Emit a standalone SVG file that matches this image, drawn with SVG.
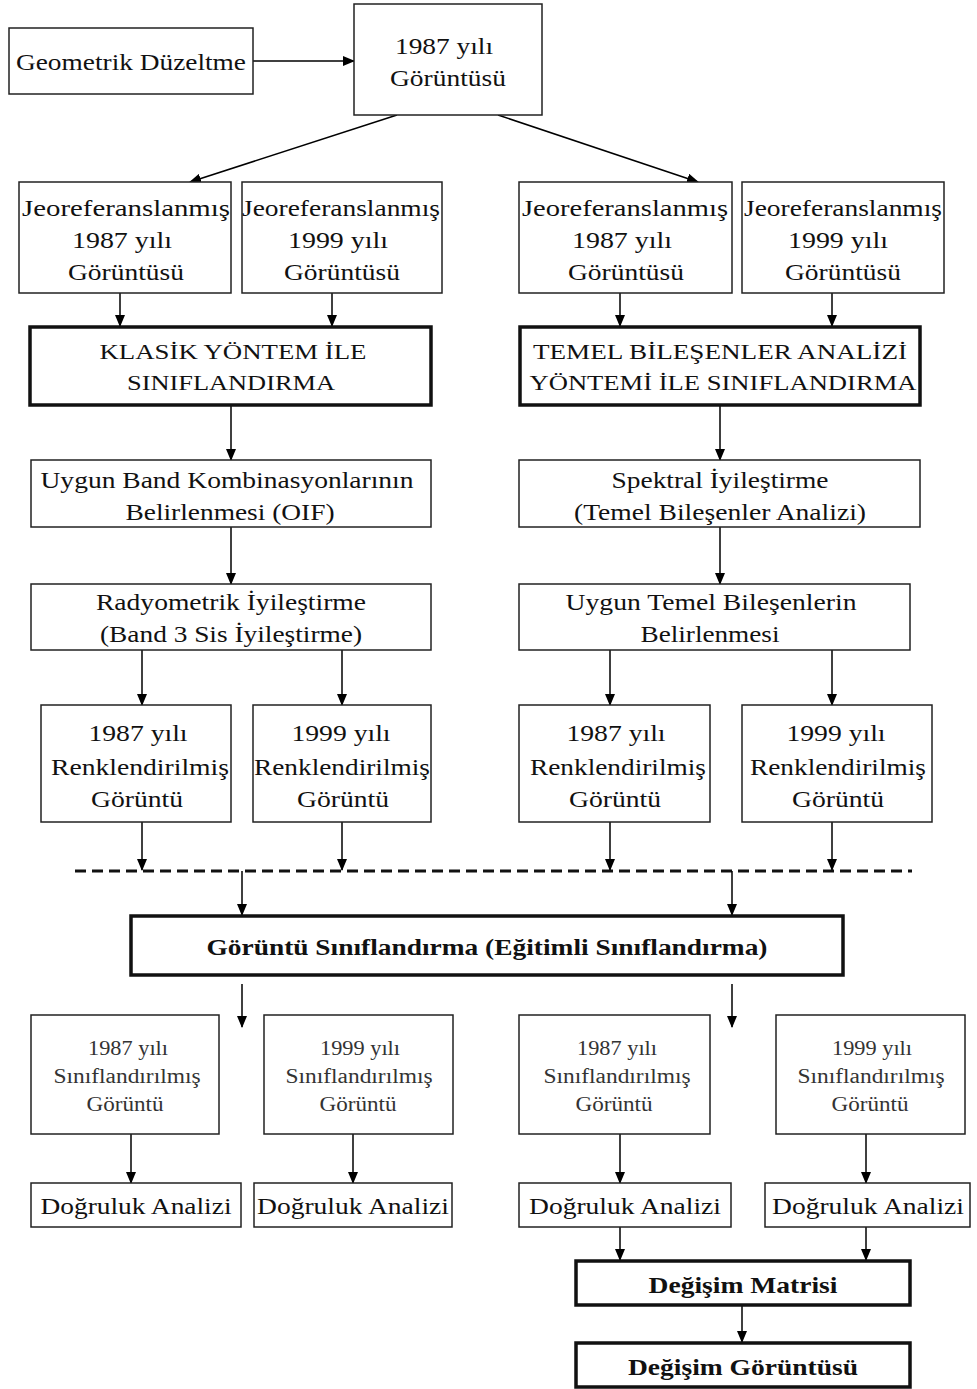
<svg xmlns="http://www.w3.org/2000/svg" width="977" height="1389" viewBox="0 0 977 1389">
<defs>
<marker id="ah" markerWidth="12" markerHeight="10" refX="11" refY="5" orient="auto" markerUnits="userSpaceOnUse">
<path d="M0,0 L12,5 L0,10 Z" fill="#000"/>
</marker>
<style>
.b{fill:#fff;stroke:#222;stroke-width:1.5}
.t{fill:#fff;stroke:#111;stroke-width:3.5}
text{font-family:"Liberation Serif","Times New Roman",serif;fill:#111;text-anchor:middle}
.n{font-size:24px}
.c{font-size:20px}
.s{font-size:20px;fill:#333}
.k{font-size:24px;font-weight:bold}
.e{stroke:#000;stroke-width:1.5;fill:none;marker-end:url(#ah)}
</style>
</defs>
<rect width="977" height="1389" fill="#fff"/>

<g id="connectors">
<line class="e" x1="253" y1="61" x2="354" y2="61"/>
<line class="e" x1="397" y1="115" x2="190" y2="182"/>
<line class="e" x1="498" y1="115" x2="698" y2="182"/>
<line class="e" x1="120" y1="293" x2="120" y2="326"/>
<line class="e" x1="332" y1="293" x2="332" y2="326"/>
<line class="e" x1="620" y1="293" x2="620" y2="326"/>
<line class="e" x1="832" y1="293" x2="832" y2="326"/>
<line class="e" x1="231" y1="405" x2="231" y2="460"/>
<line class="e" x1="720" y1="405" x2="720" y2="460"/>
<line class="e" x1="231" y1="527" x2="231" y2="584"/>
<line class="e" x1="720" y1="527" x2="720" y2="584"/>
<line class="e" x1="142" y1="650" x2="142" y2="705"/>
<line class="e" x1="342" y1="650" x2="342" y2="705"/>
<line class="e" x1="610" y1="650" x2="610" y2="705"/>
<line class="e" x1="832" y1="650" x2="832" y2="705"/>
<line class="e" x1="142" y1="822" x2="142" y2="870"/>
<line class="e" x1="342" y1="822" x2="342" y2="870"/>
<line class="e" x1="610" y1="822" x2="610" y2="870"/>
<line class="e" x1="832" y1="822" x2="832" y2="870"/>
<line x1="75" y1="871" x2="912" y2="871" stroke="#111" stroke-width="3" stroke-dasharray="11 6"/>
<line class="e" x1="242" y1="871" x2="242" y2="915"/>
<line class="e" x1="732" y1="871" x2="732" y2="915"/>
<line class="e" x1="242" y1="984" x2="242" y2="1027"/>
<line class="e" x1="732" y1="984" x2="732" y2="1027"/>
<line class="e" x1="131" y1="1134" x2="131" y2="1183"/>
<line class="e" x1="353" y1="1134" x2="353" y2="1183"/>
<line class="e" x1="620" y1="1134" x2="620" y2="1183"/>
<line class="e" x1="866" y1="1134" x2="866" y2="1183"/>
<line class="e" x1="620" y1="1227" x2="620" y2="1260"/>
<line class="e" x1="866" y1="1227" x2="866" y2="1260"/>
<line class="e" x1="742" y1="1305" x2="742" y2="1342"/>
</g>

<g id="geometrik">
<rect class="b" x="9" y="28" width="244" height="66"/>
<text class="n" x="131" y="70" textLength="230" lengthAdjust="spacingAndGlyphs">Geometrik Düzeltme</text>
</g>
<g id="img1987">
<rect class="b" x="354" y="4" width="188" height="111"/>
<text class="n" x="444" y="54" textLength="98" lengthAdjust="spacingAndGlyphs">1987 yılı</text>
<text class="n" x="448" y="86" textLength="116" lengthAdjust="spacingAndGlyphs">Görüntüsü</text>
</g>

<g id="jeo1">
<rect class="b" x="19" y="182" width="212" height="111"/>
<text class="n" x="126" y="216" textLength="208" lengthAdjust="spacingAndGlyphs">Jeoreferanslanmış</text>
<text class="n" x="122" y="248" textLength="100" lengthAdjust="spacingAndGlyphs">1987 yılı</text>
<text class="n" x="126" y="280" textLength="116" lengthAdjust="spacingAndGlyphs">Görüntüsü</text>
</g>
<g id="jeo2">
<rect class="b" x="242" y="182" width="200" height="111"/>
<text class="n" x="341" y="216" textLength="198" lengthAdjust="spacingAndGlyphs">Jeoreferanslanmış</text>
<text class="n" x="338" y="248" textLength="100" lengthAdjust="spacingAndGlyphs">1999 yılı</text>
<text class="n" x="342" y="280" textLength="116" lengthAdjust="spacingAndGlyphs">Görüntüsü</text>
</g>
<g id="jeo3">
<rect class="b" x="519" y="182" width="213" height="111"/>
<text class="n" x="625" y="216" textLength="206" lengthAdjust="spacingAndGlyphs">Jeoreferanslanmış</text>
<text class="n" x="622" y="248" textLength="100" lengthAdjust="spacingAndGlyphs">1987 yılı</text>
<text class="n" x="626" y="280" textLength="116" lengthAdjust="spacingAndGlyphs">Görüntüsü</text>
</g>
<g id="jeo4">
<rect class="b" x="742" y="182" width="202" height="111"/>
<text class="n" x="843" y="216" textLength="198" lengthAdjust="spacingAndGlyphs">Jeoreferanslanmış</text>
<text class="n" x="838" y="248" textLength="100" lengthAdjust="spacingAndGlyphs">1999 yılı</text>
<text class="n" x="843" y="280" textLength="116" lengthAdjust="spacingAndGlyphs">Görüntüsü</text>
</g>

<g id="klasik">
<rect class="t" x="30" y="327" width="401" height="78"/>
<text class="c" x="233" y="359" textLength="267" lengthAdjust="spacingAndGlyphs">KLASİK YÖNTEM İLE</text>
<text class="c" x="231" y="390" textLength="208" lengthAdjust="spacingAndGlyphs">SINIFLANDIRMA</text>
</g>
<g id="temel">
<rect class="t" x="520" y="327" width="400" height="78"/>
<text class="c" x="720" y="359" textLength="374" lengthAdjust="spacingAndGlyphs">TEMEL BİLEŞENLER ANALİZİ</text>
<text class="c" x="723" y="390" textLength="387" lengthAdjust="spacingAndGlyphs">YÖNTEMİ İLE SINIFLANDIRMA</text>
</g>

<g id="uygunband">
<rect class="b" x="31" y="460" width="400" height="67"/>
<text class="n" x="227" y="488" textLength="373" lengthAdjust="spacingAndGlyphs">Uygun Band Kombinasyonlarının</text>
<text class="n" x="230" y="520" textLength="209" lengthAdjust="spacingAndGlyphs">Belirlenmesi (OIF)</text>
</g>
<g id="spektral">
<rect class="b" x="519" y="460" width="401" height="67"/>
<text class="n" x="720" y="488" textLength="217" lengthAdjust="spacingAndGlyphs">Spektral İyileştirme</text>
<text class="n" x="720" y="520" textLength="292" lengthAdjust="spacingAndGlyphs">(Temel Bileşenler Analizi)</text>
</g>

<g id="radyometrik">
<rect class="b" x="31" y="584" width="400" height="66"/>
<text class="n" x="231" y="610" textLength="270" lengthAdjust="spacingAndGlyphs">Radyometrik İyileştirme</text>
<text class="n" x="231" y="642" textLength="262" lengthAdjust="spacingAndGlyphs">(Band 3 Sis İyileştirme)</text>
</g>
<g id="uygunbilesen">
<rect class="b" x="519" y="584" width="391" height="66"/>
<text class="n" x="711" y="610" textLength="291" lengthAdjust="spacingAndGlyphs">Uygun Temel Bileşenlerin</text>
<text class="n" x="710" y="642" textLength="139" lengthAdjust="spacingAndGlyphs">Belirlenmesi</text>
</g>

<g id="renk1">
<rect class="b" x="41" y="705" width="190" height="117"/>
<text class="n" x="138" y="741" textLength="99" lengthAdjust="spacingAndGlyphs">1987 yılı</text>
<text class="n" x="140" y="775" textLength="178" lengthAdjust="spacingAndGlyphs">Renklendirilmiş</text>
<text class="n" x="137" y="807" textLength="92" lengthAdjust="spacingAndGlyphs">Görüntü</text>
</g>
<g id="renk2">
<rect class="b" x="253" y="705" width="178" height="117"/>
<text class="n" x="341" y="741" textLength="99" lengthAdjust="spacingAndGlyphs">1999 yılı</text>
<text class="n" x="342" y="775" textLength="176" lengthAdjust="spacingAndGlyphs">Renklendirilmiş</text>
<text class="n" x="343" y="807" textLength="92" lengthAdjust="spacingAndGlyphs">Görüntü</text>
</g>
<g id="renk3">
<rect class="b" x="519" y="705" width="191" height="117"/>
<text class="n" x="616" y="741" textLength="99" lengthAdjust="spacingAndGlyphs">1987 yılı</text>
<text class="n" x="618" y="775" textLength="176" lengthAdjust="spacingAndGlyphs">Renklendirilmiş</text>
<text class="n" x="615" y="807" textLength="92" lengthAdjust="spacingAndGlyphs">Görüntü</text>
</g>
<g id="renk4">
<rect class="b" x="742" y="705" width="190" height="117"/>
<text class="n" x="836" y="741" textLength="99" lengthAdjust="spacingAndGlyphs">1999 yılı</text>
<text class="n" x="838" y="775" textLength="176" lengthAdjust="spacingAndGlyphs">Renklendirilmiş</text>
<text class="n" x="838" y="807" textLength="92" lengthAdjust="spacingAndGlyphs">Görüntü</text>
</g>

<g id="siniflandirma">
<rect class="t" x="131" y="916" width="712" height="59"/>
<text class="k" x="487" y="955" textLength="561" lengthAdjust="spacingAndGlyphs">Görüntü Sınıflandırma (Eğitimli Sınıflandırma)</text>
</g>

<g id="sin1">
<rect class="b" x="31" y="1015" width="188" height="119"/>
<text class="s" x="128" y="1055" textLength="80" lengthAdjust="spacingAndGlyphs">1987 yılı</text>
<text class="s" x="127" y="1083" textLength="147" lengthAdjust="spacingAndGlyphs">Sınıflandırılmış</text>
<text class="s" x="125" y="1111" textLength="77" lengthAdjust="spacingAndGlyphs">Görüntü</text>
</g>
<g id="sin2">
<rect class="b" x="264" y="1015" width="189" height="119"/>
<text class="s" x="360" y="1055" textLength="80" lengthAdjust="spacingAndGlyphs">1999 yılı</text>
<text class="s" x="359" y="1083" textLength="147" lengthAdjust="spacingAndGlyphs">Sınıflandırılmış</text>
<text class="s" x="358" y="1111" textLength="77" lengthAdjust="spacingAndGlyphs">Görüntü</text>
</g>
<g id="sin3">
<rect class="b" x="519" y="1015" width="191" height="119"/>
<text class="s" x="617" y="1055" textLength="80" lengthAdjust="spacingAndGlyphs">1987 yılı</text>
<text class="s" x="617" y="1083" textLength="147" lengthAdjust="spacingAndGlyphs">Sınıflandırılmış</text>
<text class="s" x="614" y="1111" textLength="77" lengthAdjust="spacingAndGlyphs">Görüntü</text>
</g>
<g id="sin4">
<rect class="b" x="776" y="1015" width="189" height="119"/>
<text class="s" x="872" y="1055" textLength="80" lengthAdjust="spacingAndGlyphs">1999 yılı</text>
<text class="s" x="871" y="1083" textLength="147" lengthAdjust="spacingAndGlyphs">Sınıflandırılmış</text>
<text class="s" x="870" y="1111" textLength="77" lengthAdjust="spacingAndGlyphs">Görüntü</text>
</g>

<g id="dog1">
<rect class="b" x="31" y="1183" width="210" height="44"/>
<text class="n" x="136" y="1214" textLength="191" lengthAdjust="spacingAndGlyphs">Doğruluk Analizi</text>
</g>
<g id="dog2">
<rect class="b" x="254" y="1183" width="198" height="44"/>
<text class="n" x="353" y="1214" textLength="192" lengthAdjust="spacingAndGlyphs">Doğruluk Analizi</text>
</g>
<g id="dog3">
<rect class="b" x="519" y="1183" width="212" height="44"/>
<text class="n" x="625" y="1214" textLength="192" lengthAdjust="spacingAndGlyphs">Doğruluk Analizi</text>
</g>
<g id="dog4">
<rect class="b" x="765" y="1183" width="205" height="44"/>
<text class="n" x="868" y="1214" textLength="192" lengthAdjust="spacingAndGlyphs">Doğruluk Analizi</text>
</g>

<g id="matris">
<rect class="t" x="576" y="1261" width="334" height="44"/>
<text class="k" x="743" y="1293" textLength="189" lengthAdjust="spacingAndGlyphs">Değişim Matrisi</text>
</g>
<g id="degisimgoruntu">
<rect class="t" x="576" y="1343" width="334" height="44"/>
<text class="k" x="743" y="1375" textLength="230" lengthAdjust="spacingAndGlyphs">Değişim Görüntüsü</text>
</g>
</svg>
